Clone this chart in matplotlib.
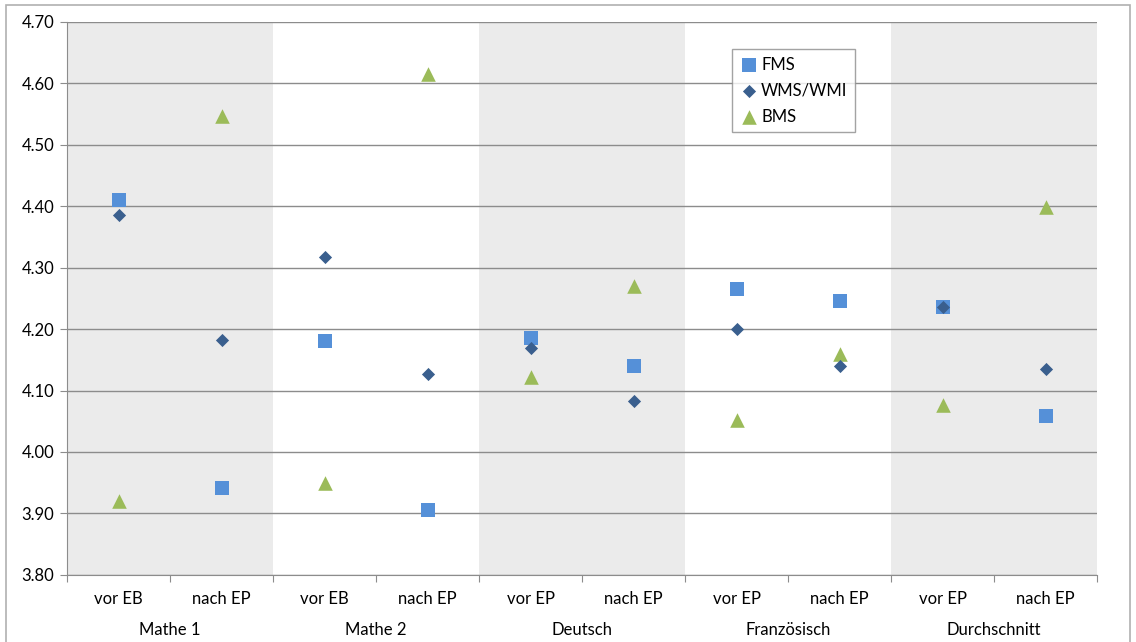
import numpy as np
import matplotlib.pyplot as plt
from matplotlib.patches import Rectangle

plt.rcParams['font.family'] = ['Lato', 'DejaVu Sans']

# categories
groups = ["Mathe 1", "Mathe 2", "Deutsch", "Französisch", "Durchschnitt"]
subs = ["vor EB", "nach EP", "vor EB", "nach EP", "vor EP", "nach EP",
        "vor EP", "nach EP", "vor EP", "nach EP"]

# values per series
fms = [4.410, 3.942, 4.180, 3.906, 4.185, 4.140, 4.265, 4.245, 4.236, 4.059]
wms = [4.385, 4.182, 4.317, 4.127, 4.169, 4.083, 4.200, 4.140, 4.236, 4.135]
bms = [3.920, 4.547, 3.950, 4.615, 4.122, 4.270, 4.052, 4.159, 4.076, 4.398]

fig = plt.figure(figsize=(11.36, 6.42), dpi=100)
ax = fig.add_axes([0.059, 0.1044, 0.9067, 0.862])

x = np.arange(len(subs))

# grey bands behind every other group
for g in range(0, len(groups), 2):
    ax.axvspan(2*g - 0.5, 2*g + 1.5, color="#ebebeb", zorder=0, lw=0)

ax.set_ylim(3.80, 4.70)
ax.set_xlim(-0.5, len(subs) - 0.5)
ax.set_yticks(np.arange(3.80, 4.701, 0.10))
ax.set_yticklabels(["%.2f" % v for v in np.arange(3.80, 4.701, 0.10)], fontsize=12)
ax.yaxis.grid(True, color="#8c8c8c", lw=1)
ax.set_axisbelow(True)

ax.scatter(x, fms, marker="s", s=95, color="#5590d8", label="FMS", zorder=3, lw=0)
ax.scatter(x, wms, marker="D", s=45, color="#3a5f8e", label="WMS/WMI", zorder=4, lw=0)
ax.scatter(x, bms, marker="^", s=110, color="#9bbb59", label="BMS", zorder=3, lw=0)

# x ticks at category boundaries, labels as text
ax.set_xticks(np.arange(-0.5, len(subs), 1.0))
ax.set_xticklabels([])
ax.tick_params(axis="x", length=5, color="#8c8c8c")
ax.tick_params(axis="y", length=5, color="#8c8c8c", pad=4)
for i, s in enumerate(subs):
    ax.text(i, -0.044, s, transform=ax.get_xaxis_transform(), ha="center", va="center", fontsize=12)
for g, name in enumerate(groups):
    ax.text(2*g + 0.5, -0.1, name, transform=ax.get_xaxis_transform(), ha="center", va="center", fontsize=12)

for side in ["top", "right"]:
    ax.spines[side].set_visible(False)
for side in ["left", "bottom"]:
    ax.spines[side].set_color("#8c8c8c")

leg = ax.legend(loc="upper left", bbox_to_anchor=(0.6456, 0.95), fontsize=12, frameon=True,
                fancybox=False, edgecolor="#8c8c8c", handletextpad=0.1, handlelength=1.2,
                borderpad=0.45, labelspacing=0.6, borderaxespad=0)
leg.get_frame().set_linewidth(1)

# outer chart border
fig.patches.append(Rectangle((0.005, -0.01), 0.99, 1.002, transform=fig.transFigure,
                             fill=False, edgecolor="#b0b0b0", lw=1.2))

fig.savefig("out.png", dpi=100)
